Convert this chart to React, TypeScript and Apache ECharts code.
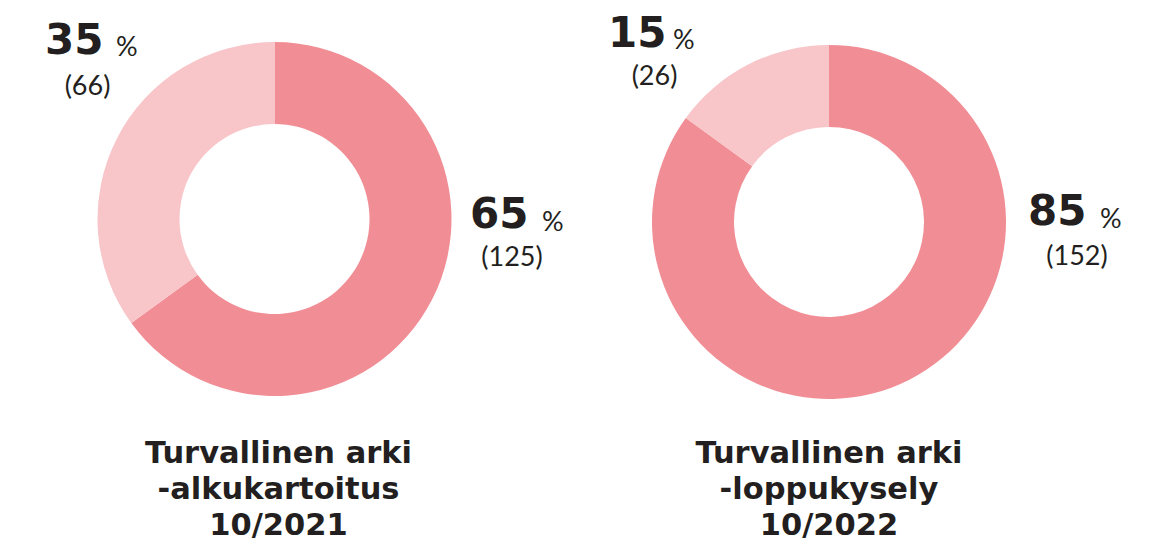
import React, { useEffect, useRef } from "react";
import * as echarts from "echarts";

const surveys = ["alku", "loppu"];
const yesShare = [65, 85];
const noShare = [35, 15];
const yesCount = [125, 152];
const noCount = [66, 26];
const titleLines = [
  ["Turvallinen arki", "-alkukartoitus", "10/2021"],
  ["Turvallinen arki", "-loppukysely", "10/2022"],
];

const DARK = "#F18D94";
const LIGHT = "#F8C5C9";
const TEXT = "#231F20";
const BOLD_FONT = "'DejaVu Sans'";
const LIGHT_FONT = "Lato";

export default function App() {
  const ref = useRef<HTMLDivElement>(null);
  useEffect(() => {
    document.body.style.margin = "0";
    const chart = echarts.init(ref.current!, undefined, { renderer: "svg" });
    const centers = [
      [274.5, 219],
      [829, 222],
    ];
    const series = surveys.map((s, i) => ({
      type: "pie",
      name: s,
      center: centers[i],
      radius: [95, 177],
      startAngle: 90,
      clockwise: true,
      silent: true,
      label: { show: false },
      labelLine: { show: false },
      data: [
        { name: "Kyllä", value: yesShare[i], itemStyle: { color: DARK } },
        { name: "Ei", value: noShare[i], itemStyle: { color: LIGHT } },
      ],
    }));

    const labelPos = [
      { share: noShare[0], count: noCount[0], nx: 45, ny: 39, px: 116, py: 45, cx: 87.5, cy: 84.5 },
      { share: yesShare[0], count: yesCount[0], nx: 470, ny: 213.5, px: 542, py: 220, cx: 512, cy: 255 },
      { share: noShare[1], count: noCount[1], nx: 608, ny: 32, px: 673, py: 38.5, cx: 654.5, cy: 74 },
      { share: yesShare[1], count: yesCount[1], nx: 1028, ny: 210, px: 1100, py: 217.5, cx: 1077, cy: 254 },
    ];
    const graphics: any[] = [];
    labelPos.forEach((l) => {
      graphics.push({
        type: "text",
        x: l.nx,
        y: l.ny,
        style: {
          text: String(l.share),
          font: `700 42px ${BOLD_FONT}`,
          fill: TEXT,
          textAlign: "left",
          textVerticalAlign: "middle",
        },
      });
      graphics.push({
        type: "text",
        x: l.px,
        y: l.py,
        style: {
          text: "%",
          font: `400 27px ${LIGHT_FONT}`,
          fill: TEXT,
          textAlign: "left",
          textVerticalAlign: "middle",
        },
      });
      graphics.push({
        type: "text",
        x: l.cx,
        y: l.cy,
        style: {
          text: `(${l.count})`,
          font: `400 27px ${LIGHT_FONT}`,
          fill: TEXT,
          textAlign: "center",
          textVerticalAlign: "middle",
        },
      });
    });
    const titleX = [278.5, 829];
    const lineY = [452, 488, 524.5];
    titleLines.forEach((lines, i) => {
      lines.forEach((t, j) => {
        graphics.push({
          type: "text",
          x: titleX[i],
          y: lineY[j],
          style: {
            text: t,
            font: `700 30.5px ${BOLD_FONT}`,
            fill: TEXT,
            textAlign: "center",
            textVerticalAlign: "middle",
          },
        });
      });
    });

    chart.setOption({
      animation: false,
      backgroundColor: "#ffffff",
      series,
      graphic: graphics,
    });
    return () => chart.dispose();
  }, []);
  return (
    <div
      ref={ref}
      style={{ position: "fixed", left: 0, top: 0, width: 1149, height: 557 }}
    />
  );
}
